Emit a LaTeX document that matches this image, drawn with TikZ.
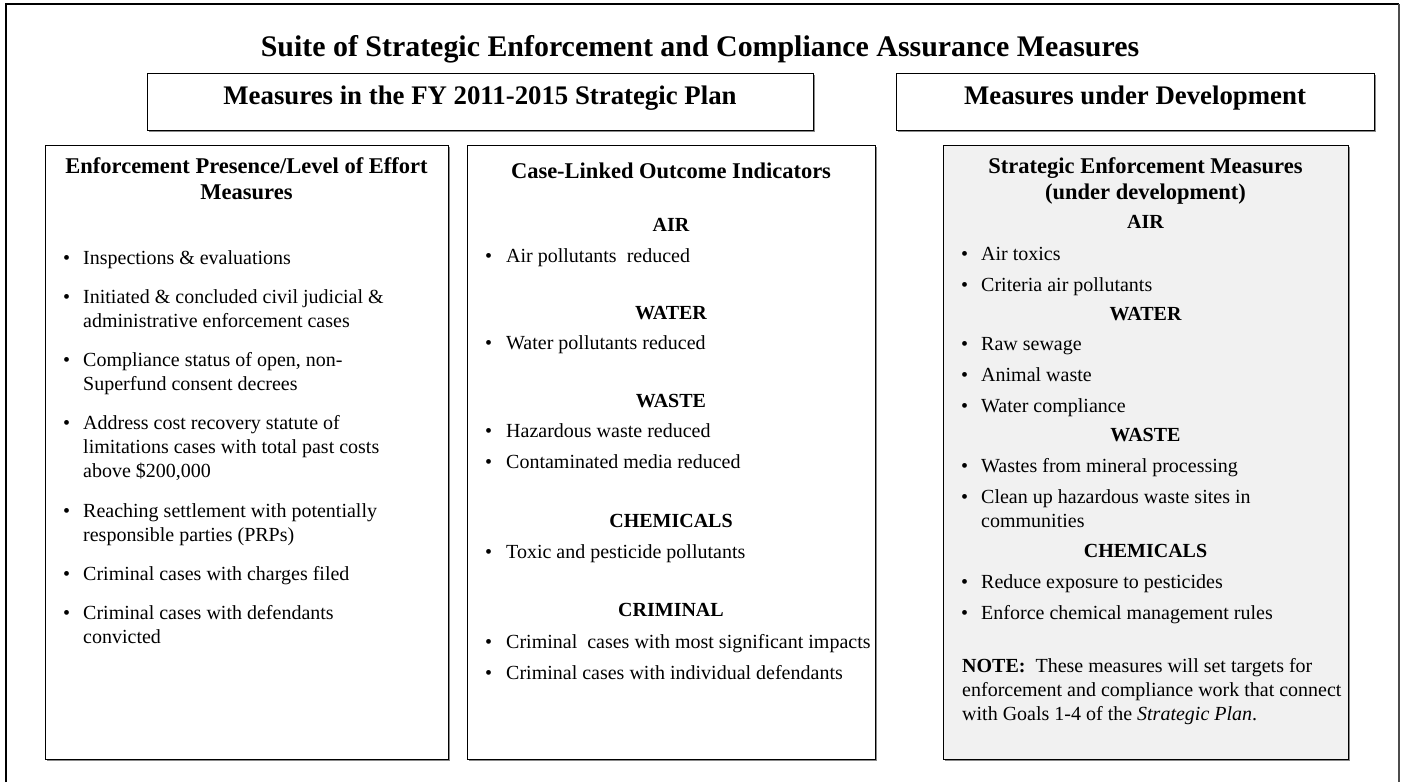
\documentclass[tikz,border=0pt]{standalone}
\usepackage{fontspec}
\setmainfont{Liberation Serif}
\usetikzlibrary{shadows}
\definecolor{panelgray}{HTML}{F1F1F1}
\definecolor{shadowgray}{HTML}{8A8A8A}

% bullet line: name, bullet x, text x, baseline y, text
\newcommand\bulletline[5]{%
  \node[bodytext] (#1b) at (#2,#4) {\textbullet};
  \node[bodytext] (#1) at (#3,#4) {#5};}
% continuation line of a bullet item
\newcommand\contline[4]{\node[bodytext] (#1) at (#2,#3) {#4};}

\begin{document}
\begin{tikzpicture}[x=1pt,y=-1pt,
  panel/.style={draw=black, line width=0.9pt, inner sep=0pt, anchor=north west,
    drop shadow={shadow xshift=1.6pt, shadow yshift=-1.6pt, fill=shadowgray, opacity=1}},
  bodytext/.style={font=\fontsize{20}{24}\selectfont, anchor=base west, inner sep=0pt},
  secthead/.style={font=\fontsize{20}{24}\selectfont\bfseries, anchor=base, inner sep=0pt},
  colhead/.style={font=\fontsize{22.5}{26}\selectfont\bfseries, anchor=base, inner sep=0pt},
  tophead/.style={font=\fontsize{26.8}{31}\selectfont\bfseries, anchor=base, inner sep=0pt},
  title/.style={font=\fontsize{29.9}{34}\selectfont\bfseries, anchor=base, inner sep=0pt},
]
\useasboundingbox (0,0) rectangle (1403,782);

% outer frame (open at the bottom)
\coordinate (fbl) at (6,782);
\coordinate (ftl) at (6,4);
\coordinate (ftr) at (1399,4);
\coordinate (fbr) at (1399,782);
\draw[line width=1.3pt, black] (fbl) -- (ftl) -- (ftr);
\draw[line width=1.6pt, black!70] (ftr) -- (fbr);

\node[title] (ttl) at (700,56) {Suite of Strategic Enforcement and Compliance Assurance Measures};

% upper header boxes
\node[panel, fill=white, minimum width=666pt, minimum height=57pt] (hplan) at (147,73) {};
\node[tophead] (hplant) at (480,104) {Measures in the FY 2011-2015 Strategic Plan};
\node[panel, fill=white, minimum width=478pt, minimum height=57pt] (hdev) at (896,73) {};
\node[tophead] (hdevt) at (1135,104) {Measures under Development};

% three column panels
\node[panel, fill=white, minimum width=403pt, minimum height=614pt] (pleft) at (45,145) {};
\node[panel, fill=white, minimum width=408pt, minimum height=614pt] (pmid) at (467,145) {};
\node[panel, fill=panelgray, minimum width=405pt, minimum height=614pt] (pright) at (943,145) {};

% left column
\node[colhead] (lh1) at (246.5,173) {Enforcement Presence/Level of Effort};
\node[colhead] (lh2) at (246.5,199) {Measures};
\bulletline{la}{63}{83}{264}{Inspections \& evaluations}
\bulletline{lb}{63}{83}{303}{Initiated \& concluded civil judicial \&}
\contline{lb2}{83}{327}{administrative enforcement cases}
\bulletline{lc}{63}{83}{366}{Compliance status of open, non-}
\contline{lc2}{83}{390}{Superfund consent decrees}
\bulletline{ld}{63}{83}{429}{Address cost recovery statute of}
\contline{ld2}{83}{453}{limitations cases with total past costs}
\contline{ld3}{83}{477}{above \$200,000}
\bulletline{le}{63}{83}{517}{Reaching settlement with potentially}
\contline{le2}{83}{541}{responsible parties (PRPs)}
\bulletline{lf}{63}{83}{580}{Criminal cases with charges filed}
\bulletline{lg}{63}{83}{619}{Criminal cases with defendants}
\contline{lg2}{83}{643}{convicted}

% middle column
\node[colhead] (mh) at (671,178) {Case-Linked Outcome Indicators};
\node[secthead] (mair) at (671,231) {AIR};
\bulletline{ma}{485}{506}{262}{Air pollutants~ reduced}
\node[secthead] (mwater) at (671,319) {WATER};
\bulletline{mb}{485}{506}{349}{Water pollutants reduced}
\node[secthead] (mwaste) at (671,407) {WASTE};
\bulletline{mc}{485}{506}{437}{Hazardous waste reduced}
\bulletline{md}{485}{506}{468}{Contaminated media reduced}
\node[secthead] (mchem) at (671,527) {CHEMICALS};
\bulletline{me}{485}{506}{558}{Toxic and pesticide pollutants}
\node[secthead] (mcrim) at (671,616) {CRIMINAL};
\bulletline{mf}{485}{506}{648}{Criminal~ cases with most significant impacts}
\bulletline{mg}{485}{506}{679}{Criminal cases with individual defendants}

% right column
\node[colhead] (rh1) at (1145.5,173) {Strategic Enforcement Measures};
\node[colhead] (rh2) at (1145.5,199) {(under development)};
\node[secthead] (rair) at (1145.5,228) {AIR};
\bulletline{ra}{961}{981}{260}{Air toxics}
\bulletline{rb}{961}{981}{291}{Criteria air pollutants}
\node[secthead] (rwater) at (1145.5,320) {WATER};
\bulletline{rc}{961}{981}{350}{Raw sewage}
\bulletline{rd}{961}{981}{381}{Animal waste}
\bulletline{re}{961}{981}{412}{Water compliance}
\node[secthead] (rwaste) at (1145.5,441) {WASTE};
\bulletline{rf}{961}{981}{472}{Wastes from mineral processing}
\bulletline{rg}{961}{981}{503}{Clean up hazardous waste sites in}
\contline{rg2}{981}{527}{communities}
\node[secthead] (rchem) at (1145.5,557) {CHEMICALS};
\bulletline{rh}{961}{981}{588}{Reduce exposure to pesticides}
\bulletline{ri}{961}{981}{619}{Enforce chemical management rules}
\contline{rn1}{962}{672}{\textbf{NOTE:}~ These measures will set targets for}
\contline{rn2}{962}{696}{enforcement and compliance work that connect}
\contline{rn3}{962}{720}{with Goals 1-4 of the \textit{Strategic Plan}.}
\end{tikzpicture}
\end{document}
